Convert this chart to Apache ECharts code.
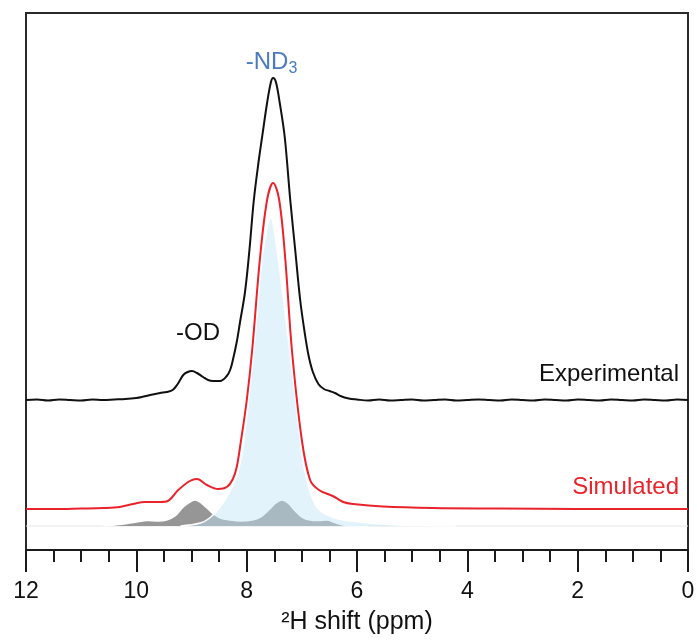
<!DOCTYPE html>
<html>
<head>
<meta charset="utf-8">
<script src="https://cdn.jsdelivr.net/npm/echarts/dist/echarts.min.js"></script>
<style>
html, body { margin: 0; padding: 0; background: #fff; }
#chart { width: 697px; height: 640px; }
</style>
</head>
<body>
<div id="chart"></div>
<script>
// 2H shift axis, ppm (reversed, 12 -> 0)
const shiftMin = 0, shiftMax = 12, shiftStep = 2;

// experimental spectrum
const expShift = [12.0, 11.8, 11.6, 11.4, 11.2, 11.0, 10.8, 10.6, 10.4, 10.2,
    10.0, 9.9, 9.75, 9.57, 9.45, 9.34, 9.25, 9.15, 9.07, 8.99,
    8.9, 8.79, 8.7, 8.61, 8.48, 8.36, 8.3, 8.25, 8.18, 8.12,
    8.03, 7.95, 7.87, 7.78, 7.72, 7.63, 7.56, 7.52, 7.47, 7.4,
    7.31, 7.21, 7.12, 7.03, 6.95, 6.88, 6.8, 6.7, 6.6, 6.5,
    6.4, 6.3, 6.15, 6.0,
    5.8, 5.6, 5.4, 5.2, 5.0, 4.8, 4.6, 4.4, 4.2, 4.0,
    3.8, 3.6, 3.4, 3.2, 3.0, 2.8, 2.6, 2.4, 2.2, 2.0,
    1.8, 1.6, 1.4, 1.2, 1.0, 0.8, 0.6, 0.4, 0.2, 0.0];
const expIntensity = [0, 0.5, -0.5, 0.5, 0, -0.5, 0.5, 0, 0.5, 1,
    2, 3, 5, 7, 8, 10, 16, 25, 28, 29,
    27, 23, 20, 19, 19, 24, 30, 40, 58, 78,
    108, 150, 200, 240, 263, 297, 318, 322, 318, 297,
    263, 200, 150, 100, 68, 45, 28, 16, 11, 9,
    7, 4, 1.5, 0.5,
    -0.5, 0.5, -0.5, 0, 0.5, -0.5, 0, 0.5, -0.5, 0,
    0.5, 0, -0.5, 0.5, 0, -0.5, 0.5, 0, -0.5, 0.5,
    0, -0.5, 0.5, 0, -0.5, 0.5, 0, -0.5, 0.5, 0];

// simulated spectrum (sum)
const simShift = [12.0, 11.5, 11.0, 10.6, 10.3, 10.06, 9.84, 9.57, 9.43, 9.24,
    9.03, 8.9, 8.72, 8.52, 8.36, 8.25, 8.18, 8.12, 8.0, 7.9,
    7.76, 7.63, 7.52, 7.41, 7.3, 7.18, 7.0, 6.85, 6.69, 6.44,
    6.25, 6.07, 5.53, 4.62, 3.41, 2.0, 0.0];
const simIntensity = [0, 0, 0.5, 1, 2, 5, 7, 7, 8, 19,
    28, 30, 24, 20, 22, 30, 42, 62, 108, 159,
    250, 309, 326, 309, 250, 159, 69, 29, 19, 13,
    7, 5, 2.5, 1, 0.5, 0, 0];

// -ND3 component
const ndShift = [9.2, 8.84, 8.67, 8.48, 8.3, 8.16, 8.05, 7.87, 7.7, 7.56,
    7.45, 7.22, 7.03, 6.94, 6.73, 6.4, 5.95, 5.22, 4.6, 4.2];
const ndIntensity = [0, 3, 8, 19, 35, 53, 86, 176, 276, 308,
    276, 176, 86, 53, 19, 8, 4, 1, 0.3, 0];

// other components (grey)
const minorShift = [10.6, 10.3, 10.0, 9.8, 9.6, 9.45, 9.3, 9.15, 9.0, 8.93,
    8.85, 8.72, 8.6, 8.48, 8.3, 8.1, 7.9, 7.75, 7.6, 7.47,
    7.36, 7.25, 7.12, 7.0, 6.85, 6.7, 6.55, 6.4, 6.25, 6.1, 5.8];
const minorIntensity = [0, 1.5, 4, 5.5, 5, 6, 10, 19, 25, 26,
    24, 18, 12, 8, 6, 5, 6, 9, 16, 23,
    26, 23, 15, 9, 6, 5.5, 6, 3.5, 1, 0.3, 0];

// vertical offsets of the stacked traces
const expOffset = 150, simOffset = 41, compOffset = 24, yTop = 537;

const font = 'Liberation Sans, Arial, sans-serif';

function pairs(xs, ys, off) {
    return xs.map(function (x, i) { return [x, ys[i] + off]; });
}

const chart = echarts.init(document.getElementById('chart'), null, { renderer: 'canvas' });

const option = {
    animation: false,
    backgroundColor: '#fff',
    grid: {
        left: 26, right: 9, top: 13, bottom: 90,
        show: true, borderColor: '#2a2a2a', borderWidth: 2,
        outerBoundsMode: 'none'
    },
    xAxis: {
        type: 'value',
        min: shiftMin, max: shiftMax, interval: shiftStep,
        inverse: true,
        axisLine: { show: true, onZero: false, lineStyle: { color: '#1a1a1a', width: 2 } },
        axisTick: { show: true, inside: false, length: 22, lineStyle: { color: '#1a1a1a', width: 2 } },
        minorTick: { show: true, splitNumber: 4, length: 12, lineStyle: { color: '#1a1a1a', width: 2 } },
        splitLine: { show: false },
        minorSplitLine: { show: false },
        axisLabel: { fontSize: 23, color: '#111', margin: 30, fontFamily: font },
        name: '²H shift (ppm)',
        nameLocation: 'middle',
        nameGap: 60,
        nameTextStyle: { fontSize: 25, color: '#111', fontFamily: font }
    },
    yAxis: {
        type: 'value', min: 0, max: yTop, show: false,
        splitLine: { show: false }
    },
    series: [
        {
            name: 'baseline',
            type: 'line',
            data: [[shiftMax, compOffset], [shiftMin, compOffset]],
            showSymbol: false,
            lineStyle: { color: '#e2e6e9', width: 1 },
            z: 1
        },
        {
            name: 'minor',
            type: 'line',
            data: pairs(minorShift, minorIntensity, compOffset),
            smooth: 0.35,
            showSymbol: false,
            lineStyle: { color: '#fff', width: 1.5 },
            areaStyle: { color: '#969696', opacity: 1, origin: compOffset },
            z: 2
        },
        {
            name: 'ND3',
            type: 'line',
            data: pairs(ndShift, ndIntensity, compOffset),
            smooth: 0.35,
            showSymbol: false,
            lineStyle: { color: '#fff', width: 1.5 },
            areaStyle: { color: 'rgba(190,228,246,0.45)', opacity: 1, origin: compOffset },
            z: 3
        },
        {
            name: 'Simulated',
            type: 'line',
            data: pairs(simShift, simIntensity, simOffset),
            smooth: 0.35,
            showSymbol: false,
            lineStyle: { color: '#e8232b', width: 2 },
            z: 4
        },
        {
            name: 'Experimental',
            type: 'line',
            data: pairs(expShift, expIntensity, expOffset),
            smooth: 0.35,
            showSymbol: false,
            lineStyle: { color: '#111', width: 2 },
            z: 5
        }
    ],
    graphic: [
        { type: 'text', x: 267, y: 62, style: { text: '-ND', font: '24px ' + font, fill: '#4a7bc1', textAlign: 'center', textVerticalAlign: 'middle' } },
        { type: 'text', x: 293, y: 69, style: { text: '3', font: '16px ' + font, fill: '#4a7bc1', textAlign: 'center', textVerticalAlign: 'middle' } },
        { type: 'text', x: 198, y: 333, style: { text: '-OD', font: '24px ' + font, fill: '#111', textAlign: 'center', textVerticalAlign: 'middle' } },
        { type: 'text', x: 679, y: 374, style: { text: 'Experimental', font: '24px ' + font, fill: '#111', textAlign: 'right', textVerticalAlign: 'middle' } },
        { type: 'text', x: 679, y: 487, style: { text: 'Simulated', font: '24px ' + font, fill: '#e8232b', textAlign: 'right', textVerticalAlign: 'middle' } }
    ]
};

chart.setOption(option);
</script>
</body>
</html>
